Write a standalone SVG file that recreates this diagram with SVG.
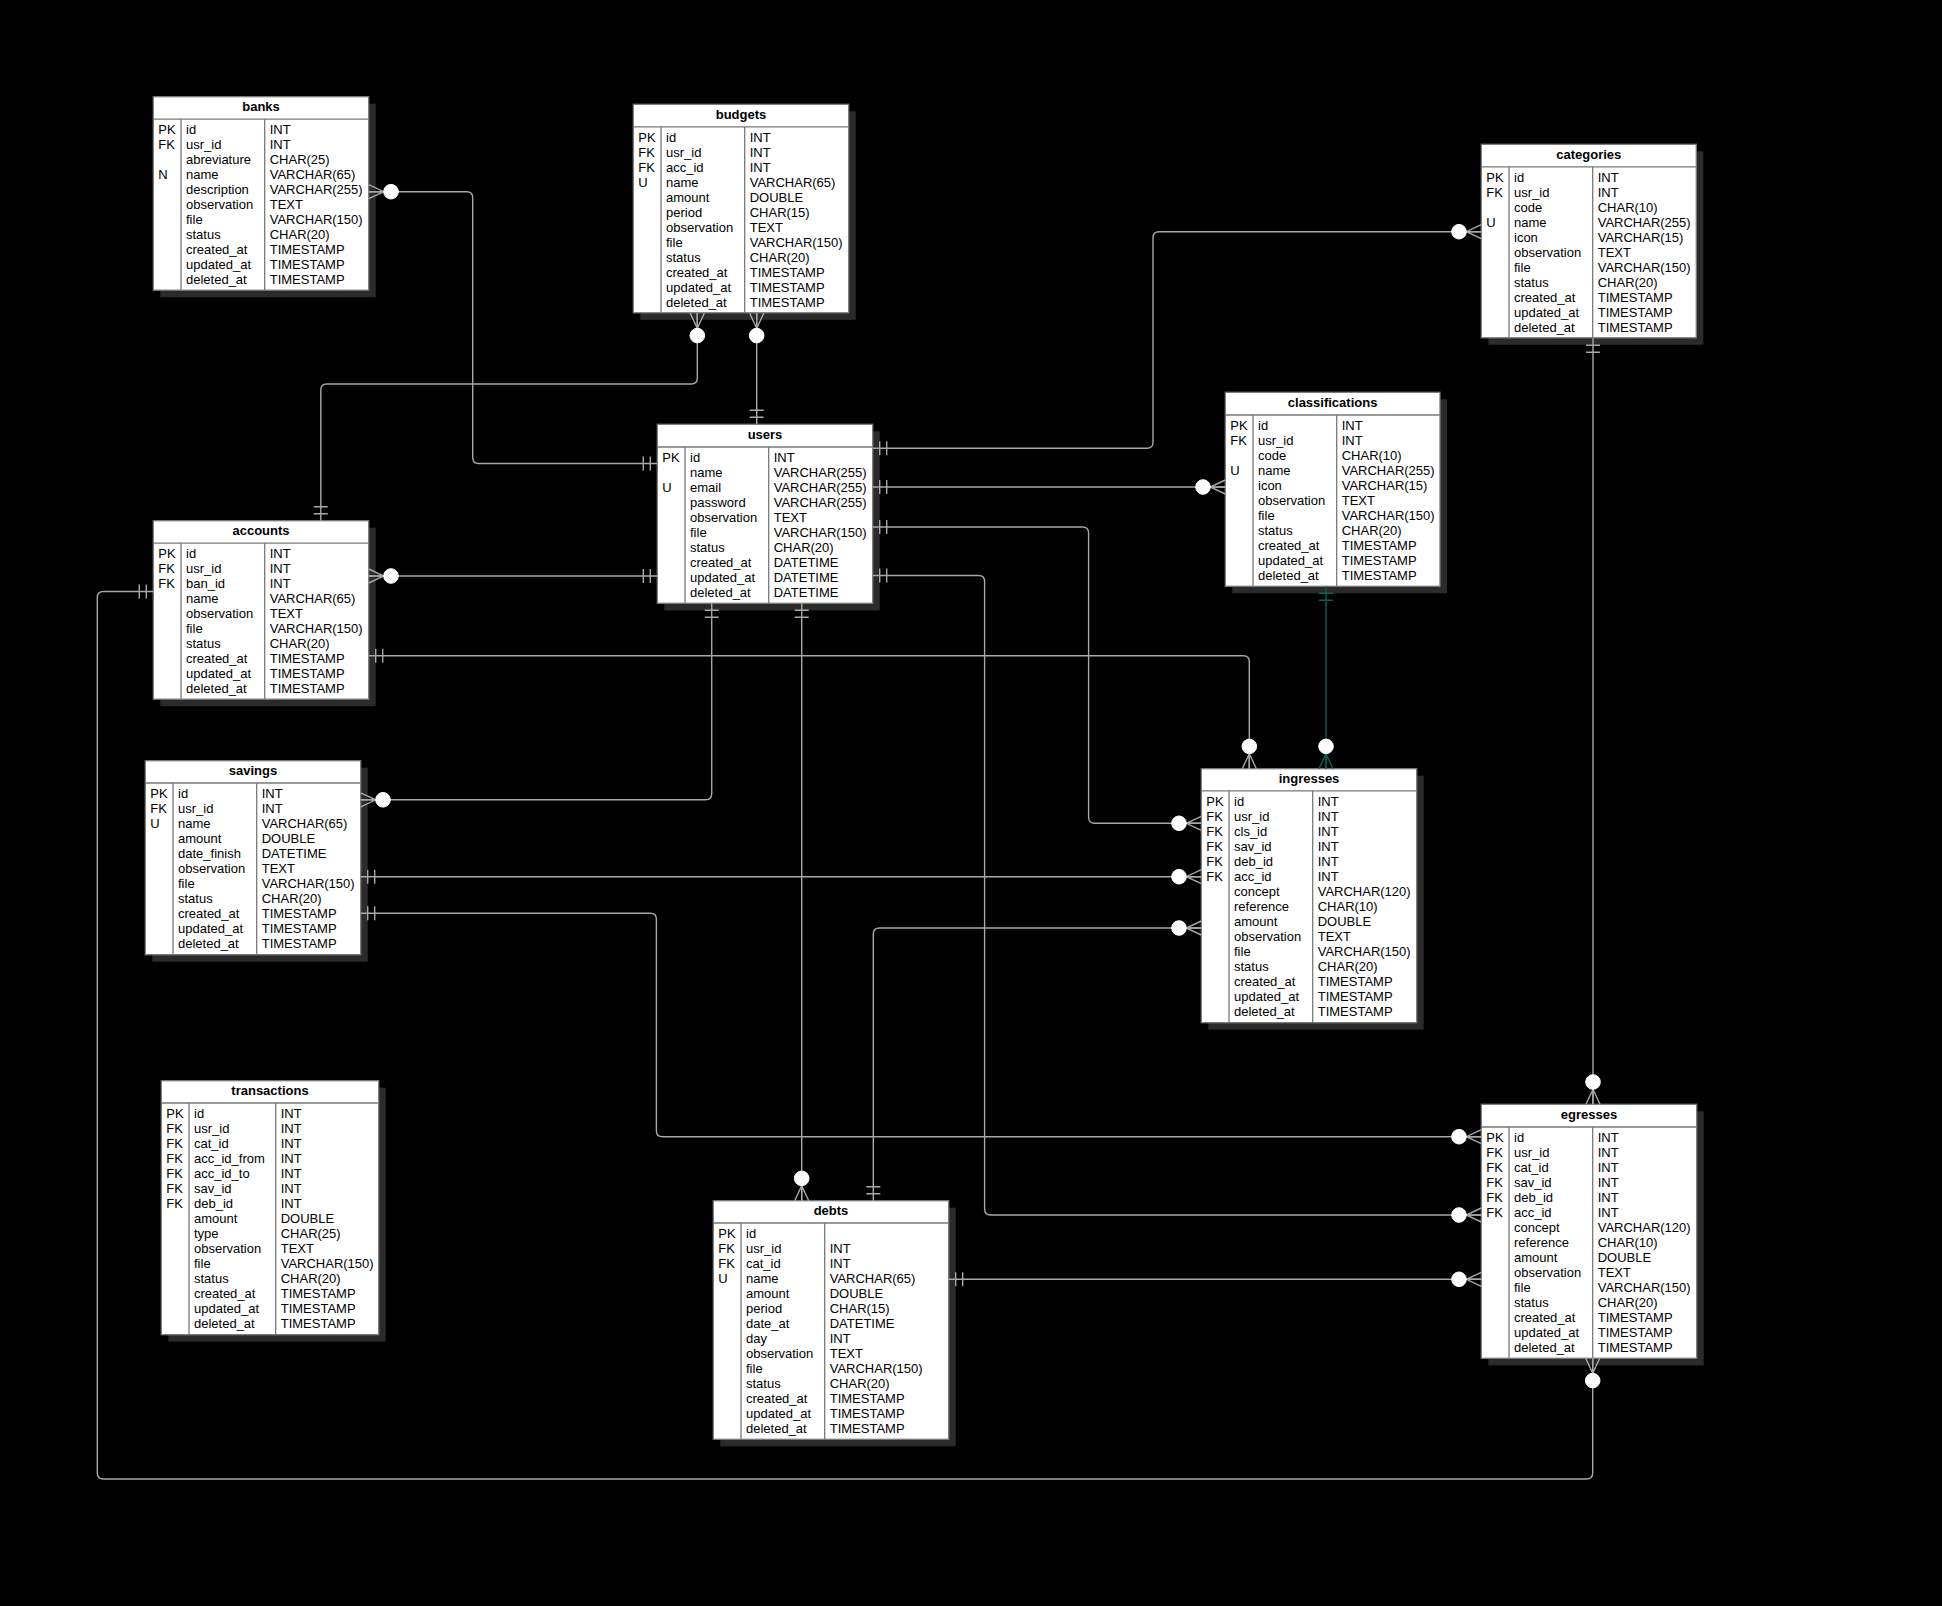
<svg xmlns="http://www.w3.org/2000/svg" width="1942" height="1606" viewBox="0 0 1942 1606">
<defs>
<style>
.bg{fill:#000}
.sh{fill:#2b2b2b}
.bx{fill:#fff;stroke:#7a7a7a;stroke-width:1.3}
.dv{stroke:#7a7a7a;stroke-width:1.3;fill:none}
.hd{font-family:"Liberation Sans",Arial,sans-serif;font-size:13px;font-weight:bold;fill:#000;text-anchor:middle}
.tx{font-family:"Liberation Sans",Arial,sans-serif;font-size:13px;fill:#000}
.ln{fill:none;stroke:#a8a8a8;stroke-width:1.4}
.tl{fill:none;stroke:#0b5f5a;stroke-width:1.4}
</style>
<marker id="one" markerUnits="userSpaceOnUse" orient="auto-start-reverse" refX="0" refY="0" markerWidth="40" markerHeight="40" viewBox="-30 -20 40 40" overflow="visible">
<path d="M-7,-7 V7 M-14,-7 V7" fill="none" stroke="#a8a8a8" stroke-width="1.4"/>
</marker>
<marker id="zm" markerUnits="userSpaceOnUse" orient="auto-start-reverse" refX="0" refY="0" markerWidth="40" markerHeight="40" viewBox="-30 -20 40 40" overflow="visible">
<path d="M0,-7 L-15,0 L0,7 M0,0 H-15" fill="none" stroke="#a8a8a8" stroke-width="1.4"/>
<circle cx="-22.3" cy="0" r="7.3" fill="#fff" stroke="#fff" stroke-width="1"/>
</marker>
<marker id="oneT" markerUnits="userSpaceOnUse" orient="auto-start-reverse" refX="0" refY="0" markerWidth="40" markerHeight="40" viewBox="-30 -20 40 40" overflow="visible">
<path d="M-7,-7 V7 M-14,-7 V7" fill="none" stroke="#0b5f5a" stroke-width="1.4"/>
</marker>
<marker id="zmT" markerUnits="userSpaceOnUse" orient="auto-start-reverse" refX="0" refY="0" markerWidth="40" markerHeight="40" viewBox="-30 -20 40 40" overflow="visible">
<path d="M0,-7 L-15,0 L0,7 M0,0 H-15" fill="none" stroke="#0b5f5a" stroke-width="1.4"/>
<circle cx="-22.3" cy="0" r="7.3" fill="#fff" stroke="#fff" stroke-width="1"/>
</marker>
</defs>
<rect class="bg" x="0" y="0" width="1942" height="1606"/>

<g id="banks" transform="translate(153.3,96.7)">
<rect class="sh" x="7" y="7" width="215.4" height="193.5"/>
<rect class="bx" x="0" y="0" width="215.4" height="193.5"/>
<path class="dv" d="M0,22.5 H215.4 M27.7,22.5 V193.5 M111.4,22.5 V193.5"/>
<text class="hd" x="107.7" y="14.6">banks</text>
<text class="tx"><tspan x="5" y="37.5">PK</tspan><tspan x="5" y="52.5">FK</tspan><tspan x="5" y="82.5">N</tspan></text>
<text class="tx"><tspan x="32.7" y="37.5">id</tspan><tspan x="32.7" dy="15">usr_id</tspan><tspan x="32.7" dy="15">abreviature</tspan><tspan x="32.7" dy="15">name</tspan><tspan x="32.7" dy="15">description</tspan><tspan x="32.7" dy="15">observation</tspan><tspan x="32.7" dy="15">file</tspan><tspan x="32.7" dy="15">status</tspan><tspan x="32.7" dy="15">created_at</tspan><tspan x="32.7" dy="15">updated_at</tspan><tspan x="32.7" dy="15">deleted_at</tspan></text>
<text class="tx"><tspan x="116.4" y="37.5">INT</tspan><tspan x="116.4" dy="15">INT</tspan><tspan x="116.4" dy="15">CHAR(25)</tspan><tspan x="116.4" dy="15">VARCHAR(65)</tspan><tspan x="116.4" dy="15">VARCHAR(255)</tspan><tspan x="116.4" dy="15">TEXT</tspan><tspan x="116.4" dy="15">VARCHAR(150)</tspan><tspan x="116.4" dy="15">CHAR(20)</tspan><tspan x="116.4" dy="15">TIMESTAMP</tspan><tspan x="116.4" dy="15">TIMESTAMP</tspan><tspan x="116.4" dy="15">TIMESTAMP</tspan></text>
</g>

<g id="budgets" transform="translate(633.3,104.3)">
<rect class="sh" x="7" y="7" width="215.4" height="208.5"/>
<rect class="bx" x="0" y="0" width="215.4" height="208.5"/>
<path class="dv" d="M0,22.5 H215.4 M27.7,22.5 V208.5 M111.4,22.5 V208.5"/>
<text class="hd" x="107.7" y="14.6">budgets</text>
<text class="tx"><tspan x="5" y="37.5">PK</tspan><tspan x="5" y="52.5">FK</tspan><tspan x="5" y="67.5">FK</tspan><tspan x="5" y="82.5">U</tspan></text>
<text class="tx"><tspan x="32.7" y="37.5">id</tspan><tspan x="32.7" dy="15">usr_id</tspan><tspan x="32.7" dy="15">acc_id</tspan><tspan x="32.7" dy="15">name</tspan><tspan x="32.7" dy="15">amount</tspan><tspan x="32.7" dy="15">period</tspan><tspan x="32.7" dy="15">observation</tspan><tspan x="32.7" dy="15">file</tspan><tspan x="32.7" dy="15">status</tspan><tspan x="32.7" dy="15">created_at</tspan><tspan x="32.7" dy="15">updated_at</tspan><tspan x="32.7" dy="15">deleted_at</tspan></text>
<text class="tx"><tspan x="116.4" y="37.5">INT</tspan><tspan x="116.4" dy="15">INT</tspan><tspan x="116.4" dy="15">INT</tspan><tspan x="116.4" dy="15">VARCHAR(65)</tspan><tspan x="116.4" dy="15">DOUBLE</tspan><tspan x="116.4" dy="15">CHAR(15)</tspan><tspan x="116.4" dy="15">TEXT</tspan><tspan x="116.4" dy="15">VARCHAR(150)</tspan><tspan x="116.4" dy="15">CHAR(20)</tspan><tspan x="116.4" dy="15">TIMESTAMP</tspan><tspan x="116.4" dy="15">TIMESTAMP</tspan><tspan x="116.4" dy="15">TIMESTAMP</tspan></text>
</g>

<g id="categories" transform="translate(1481.3,144.3)">
<rect class="sh" x="7" y="7" width="215" height="193.5"/>
<rect class="bx" x="0" y="0" width="215" height="193.5"/>
<path class="dv" d="M0,22.5 H215 M27.7,22.5 V193.5 M111.4,22.5 V193.5"/>
<text class="hd" x="107.5" y="14.6">categories</text>
<text class="tx"><tspan x="5" y="37.5">PK</tspan><tspan x="5" y="52.5">FK</tspan><tspan x="5" y="82.5">U</tspan></text>
<text class="tx"><tspan x="32.7" y="37.5">id</tspan><tspan x="32.7" dy="15">usr_id</tspan><tspan x="32.7" dy="15">code</tspan><tspan x="32.7" dy="15">name</tspan><tspan x="32.7" dy="15">icon</tspan><tspan x="32.7" dy="15">observation</tspan><tspan x="32.7" dy="15">file</tspan><tspan x="32.7" dy="15">status</tspan><tspan x="32.7" dy="15">created_at</tspan><tspan x="32.7" dy="15">updated_at</tspan><tspan x="32.7" dy="15">deleted_at</tspan></text>
<text class="tx"><tspan x="116.4" y="37.5">INT</tspan><tspan x="116.4" dy="15">INT</tspan><tspan x="116.4" dy="15">CHAR(10)</tspan><tspan x="116.4" dy="15">VARCHAR(255)</tspan><tspan x="116.4" dy="15">VARCHAR(15)</tspan><tspan x="116.4" dy="15">TEXT</tspan><tspan x="116.4" dy="15">VARCHAR(150)</tspan><tspan x="116.4" dy="15">CHAR(20)</tspan><tspan x="116.4" dy="15">TIMESTAMP</tspan><tspan x="116.4" dy="15">TIMESTAMP</tspan><tspan x="116.4" dy="15">TIMESTAMP</tspan></text>
</g>

<g id="accounts" transform="translate(153.3,520.7)">
<rect class="sh" x="7" y="7" width="215.4" height="178.5"/>
<rect class="bx" x="0" y="0" width="215.4" height="178.5"/>
<path class="dv" d="M0,22.5 H215.4 M27.7,22.5 V178.5 M111.4,22.5 V178.5"/>
<text class="hd" x="107.7" y="14.6">accounts</text>
<text class="tx"><tspan x="5" y="37.5">PK</tspan><tspan x="5" y="52.5">FK</tspan><tspan x="5" y="67.5">FK</tspan></text>
<text class="tx"><tspan x="32.7" y="37.5">id</tspan><tspan x="32.7" dy="15">usr_id</tspan><tspan x="32.7" dy="15">ban_id</tspan><tspan x="32.7" dy="15">name</tspan><tspan x="32.7" dy="15">observation</tspan><tspan x="32.7" dy="15">file</tspan><tspan x="32.7" dy="15">status</tspan><tspan x="32.7" dy="15">created_at</tspan><tspan x="32.7" dy="15">updated_at</tspan><tspan x="32.7" dy="15">deleted_at</tspan></text>
<text class="tx"><tspan x="116.4" y="37.5">INT</tspan><tspan x="116.4" dy="15">INT</tspan><tspan x="116.4" dy="15">INT</tspan><tspan x="116.4" dy="15">VARCHAR(65)</tspan><tspan x="116.4" dy="15">TEXT</tspan><tspan x="116.4" dy="15">VARCHAR(150)</tspan><tspan x="116.4" dy="15">CHAR(20)</tspan><tspan x="116.4" dy="15">TIMESTAMP</tspan><tspan x="116.4" dy="15">TIMESTAMP</tspan><tspan x="116.4" dy="15">TIMESTAMP</tspan></text>
</g>

<g id="users" transform="translate(657.3,424.3)">
<rect class="sh" x="7" y="7" width="215.4" height="179"/>
<rect class="bx" x="0" y="0" width="215.4" height="179"/>
<path class="dv" d="M0,22.7 H215.4 M27.7,22.7 V179 M111.4,22.7 V179"/>
<text class="hd" x="107.7" y="14.6">users</text>
<text class="tx"><tspan x="5" y="37.7">PK</tspan><tspan x="5" y="67.7">U</tspan></text>
<text class="tx"><tspan x="32.7" y="37.7">id</tspan><tspan x="32.7" dy="15">name</tspan><tspan x="32.7" dy="15">email</tspan><tspan x="32.7" dy="15">password</tspan><tspan x="32.7" dy="15">observation</tspan><tspan x="32.7" dy="15">file</tspan><tspan x="32.7" dy="15">status</tspan><tspan x="32.7" dy="15">created_at</tspan><tspan x="32.7" dy="15">updated_at</tspan><tspan x="32.7" dy="15">deleted_at</tspan></text>
<text class="tx"><tspan x="116.4" y="37.7">INT</tspan><tspan x="116.4" dy="15">VARCHAR(255)</tspan><tspan x="116.4" dy="15">VARCHAR(255)</tspan><tspan x="116.4" dy="15">VARCHAR(255)</tspan><tspan x="116.4" dy="15">TEXT</tspan><tspan x="116.4" dy="15">VARCHAR(150)</tspan><tspan x="116.4" dy="15">CHAR(20)</tspan><tspan x="116.4" dy="15">DATETIME</tspan><tspan x="116.4" dy="15">DATETIME</tspan><tspan x="116.4" dy="15">DATETIME</tspan></text>
</g>

<g id="classifications" transform="translate(1225.3,392.3)">
<rect class="sh" x="7" y="7" width="214.7" height="194"/>
<rect class="bx" x="0" y="0" width="214.7" height="194"/>
<path class="dv" d="M0,22.7 H214.7 M27.7,22.7 V194 M111.4,22.7 V194"/>
<text class="hd" x="107.3" y="14.6">classifications</text>
<text class="tx"><tspan x="5" y="37.7">PK</tspan><tspan x="5" y="52.7">FK</tspan><tspan x="5" y="82.7">U</tspan></text>
<text class="tx"><tspan x="32.7" y="37.7">id</tspan><tspan x="32.7" dy="15">usr_id</tspan><tspan x="32.7" dy="15">code</tspan><tspan x="32.7" dy="15">name</tspan><tspan x="32.7" dy="15">icon</tspan><tspan x="32.7" dy="15">observation</tspan><tspan x="32.7" dy="15">file</tspan><tspan x="32.7" dy="15">status</tspan><tspan x="32.7" dy="15">created_at</tspan><tspan x="32.7" dy="15">updated_at</tspan><tspan x="32.7" dy="15">deleted_at</tspan></text>
<text class="tx"><tspan x="116.4" y="37.7">INT</tspan><tspan x="116.4" dy="15">INT</tspan><tspan x="116.4" dy="15">CHAR(10)</tspan><tspan x="116.4" dy="15">VARCHAR(255)</tspan><tspan x="116.4" dy="15">VARCHAR(15)</tspan><tspan x="116.4" dy="15">TEXT</tspan><tspan x="116.4" dy="15">VARCHAR(150)</tspan><tspan x="116.4" dy="15">CHAR(20)</tspan><tspan x="116.4" dy="15">TIMESTAMP</tspan><tspan x="116.4" dy="15">TIMESTAMP</tspan><tspan x="116.4" dy="15">TIMESTAMP</tspan></text>
</g>

<g id="savings" transform="translate(145.3,760.7)">
<rect class="sh" x="7" y="7" width="215.4" height="194"/>
<rect class="bx" x="0" y="0" width="215.4" height="194"/>
<path class="dv" d="M0,22.3 H215.4 M27.7,22.3 V194 M111.4,22.3 V194"/>
<text class="hd" x="107.7" y="14.6">savings</text>
<text class="tx"><tspan x="5" y="37.5">PK</tspan><tspan x="5" y="52.5">FK</tspan><tspan x="5" y="67.5">U</tspan></text>
<text class="tx"><tspan x="32.7" y="37.5">id</tspan><tspan x="32.7" dy="15">usr_id</tspan><tspan x="32.7" dy="15">name</tspan><tspan x="32.7" dy="15">amount</tspan><tspan x="32.7" dy="15">date_finish</tspan><tspan x="32.7" dy="15">observation</tspan><tspan x="32.7" dy="15">file</tspan><tspan x="32.7" dy="15">status</tspan><tspan x="32.7" dy="15">created_at</tspan><tspan x="32.7" dy="15">updated_at</tspan><tspan x="32.7" dy="15">deleted_at</tspan></text>
<text class="tx"><tspan x="116.4" y="37.5">INT</tspan><tspan x="116.4" dy="15">INT</tspan><tspan x="116.4" dy="15">VARCHAR(65)</tspan><tspan x="116.4" dy="15">DOUBLE</tspan><tspan x="116.4" dy="15">DATETIME</tspan><tspan x="116.4" dy="15">TEXT</tspan><tspan x="116.4" dy="15">VARCHAR(150)</tspan><tspan x="116.4" dy="15">CHAR(20)</tspan><tspan x="116.4" dy="15">TIMESTAMP</tspan><tspan x="116.4" dy="15">TIMESTAMP</tspan><tspan x="116.4" dy="15">TIMESTAMP</tspan></text>
</g>

<g id="ingresses" transform="translate(1201.3,768.7)">
<rect class="sh" x="7" y="7" width="215.4" height="254"/>
<rect class="bx" x="0" y="0" width="215.4" height="254"/>
<path class="dv" d="M0,22.2 H215.4 M27.7,22.2 V254 M111.4,22.2 V254"/>
<text class="hd" x="107.7" y="14.6">ingresses</text>
<text class="tx"><tspan x="5" y="37.3">PK</tspan><tspan x="5" y="52.3">FK</tspan><tspan x="5" y="67.3">FK</tspan><tspan x="5" y="82.3">FK</tspan><tspan x="5" y="97.3">FK</tspan><tspan x="5" y="112.3">FK</tspan></text>
<text class="tx"><tspan x="32.7" y="37.3">id</tspan><tspan x="32.7" dy="15">usr_id</tspan><tspan x="32.7" dy="15">cls_id</tspan><tspan x="32.7" dy="15">sav_id</tspan><tspan x="32.7" dy="15">deb_id</tspan><tspan x="32.7" dy="15">acc_id</tspan><tspan x="32.7" dy="15">concept</tspan><tspan x="32.7" dy="15">reference</tspan><tspan x="32.7" dy="15">amount</tspan><tspan x="32.7" dy="15">observation</tspan><tspan x="32.7" dy="15">file</tspan><tspan x="32.7" dy="15">status</tspan><tspan x="32.7" dy="15">created_at</tspan><tspan x="32.7" dy="15">updated_at</tspan><tspan x="32.7" dy="15">deleted_at</tspan></text>
<text class="tx"><tspan x="116.4" y="37.3">INT</tspan><tspan x="116.4" dy="15">INT</tspan><tspan x="116.4" dy="15">INT</tspan><tspan x="116.4" dy="15">INT</tspan><tspan x="116.4" dy="15">INT</tspan><tspan x="116.4" dy="15">INT</tspan><tspan x="116.4" dy="15">VARCHAR(120)</tspan><tspan x="116.4" dy="15">CHAR(10)</tspan><tspan x="116.4" dy="15">DOUBLE</tspan><tspan x="116.4" dy="15">TEXT</tspan><tspan x="116.4" dy="15">VARCHAR(150)</tspan><tspan x="116.4" dy="15">CHAR(20)</tspan><tspan x="116.4" dy="15">TIMESTAMP</tspan><tspan x="116.4" dy="15">TIMESTAMP</tspan><tspan x="116.4" dy="15">TIMESTAMP</tspan></text>
</g>

<g id="transactions" transform="translate(161.3,1080.7)">
<rect class="sh" x="7" y="7" width="217.4" height="254"/>
<rect class="bx" x="0" y="0" width="217.4" height="254"/>
<path class="dv" d="M0,22.3 H217.4 M27.7,22.3 V254 M114.4,22.3 V254"/>
<text class="hd" x="108.7" y="14.6">transactions</text>
<text class="tx"><tspan x="5" y="37.5">PK</tspan><tspan x="5" y="52.5">FK</tspan><tspan x="5" y="67.5">FK</tspan><tspan x="5" y="82.5">FK</tspan><tspan x="5" y="97.5">FK</tspan><tspan x="5" y="112.5">FK</tspan><tspan x="5" y="127.5">FK</tspan></text>
<text class="tx"><tspan x="32.7" y="37.5">id</tspan><tspan x="32.7" dy="15">usr_id</tspan><tspan x="32.7" dy="15">cat_id</tspan><tspan x="32.7" dy="15">acc_id_from</tspan><tspan x="32.7" dy="15">acc_id_to</tspan><tspan x="32.7" dy="15">sav_id</tspan><tspan x="32.7" dy="15">deb_id</tspan><tspan x="32.7" dy="15">amount</tspan><tspan x="32.7" dy="15">type</tspan><tspan x="32.7" dy="15">observation</tspan><tspan x="32.7" dy="15">file</tspan><tspan x="32.7" dy="15">status</tspan><tspan x="32.7" dy="15">created_at</tspan><tspan x="32.7" dy="15">updated_at</tspan><tspan x="32.7" dy="15">deleted_at</tspan></text>
<text class="tx"><tspan x="119.4" y="37.5">INT</tspan><tspan x="119.4" dy="15">INT</tspan><tspan x="119.4" dy="15">INT</tspan><tspan x="119.4" dy="15">INT</tspan><tspan x="119.4" dy="15">INT</tspan><tspan x="119.4" dy="15">INT</tspan><tspan x="119.4" dy="15">INT</tspan><tspan x="119.4" dy="15">DOUBLE</tspan><tspan x="119.4" dy="15">CHAR(25)</tspan><tspan x="119.4" dy="15">TEXT</tspan><tspan x="119.4" dy="15">VARCHAR(150)</tspan><tspan x="119.4" dy="15">CHAR(20)</tspan><tspan x="119.4" dy="15">TIMESTAMP</tspan><tspan x="119.4" dy="15">TIMESTAMP</tspan><tspan x="119.4" dy="15">TIMESTAMP</tspan></text>
</g>

<g id="debts" transform="translate(713.3,1200.7)">
<rect class="sh" x="7" y="7" width="235.4" height="238.6"/>
<rect class="bx" x="0" y="0" width="235.4" height="238.6"/>
<path class="dv" d="M0,22.3 H235.4 M27.7,22.3 V238.6 M111.4,22.3 V238.6"/>
<text class="hd" x="117.7" y="14.6">debts</text>
<text class="tx"><tspan x="5" y="37.5">PK</tspan><tspan x="5" y="52.5">FK</tspan><tspan x="5" y="67.5">FK</tspan><tspan x="5" y="82.5">U</tspan></text>
<text class="tx"><tspan x="32.7" y="37.5">id</tspan><tspan x="32.7" dy="15">usr_id</tspan><tspan x="32.7" dy="15">cat_id</tspan><tspan x="32.7" dy="15">name</tspan><tspan x="32.7" dy="15">amount</tspan><tspan x="32.7" dy="15">period</tspan><tspan x="32.7" dy="15">date_at</tspan><tspan x="32.7" dy="15">day</tspan><tspan x="32.7" dy="15">observation</tspan><tspan x="32.7" dy="15">file</tspan><tspan x="32.7" dy="15">status</tspan><tspan x="32.7" dy="15">created_at</tspan><tspan x="32.7" dy="15">updated_at</tspan><tspan x="32.7" dy="15">deleted_at</tspan></text>
<text class="tx"><tspan x="116.4" y="52.5">INT</tspan><tspan x="116.4" dy="15">INT</tspan><tspan x="116.4" dy="15">VARCHAR(65)</tspan><tspan x="116.4" dy="15">DOUBLE</tspan><tspan x="116.4" dy="15">CHAR(15)</tspan><tspan x="116.4" dy="15">DATETIME</tspan><tspan x="116.4" dy="15">INT</tspan><tspan x="116.4" dy="15">TEXT</tspan><tspan x="116.4" dy="15">VARCHAR(150)</tspan><tspan x="116.4" dy="15">CHAR(20)</tspan><tspan x="116.4" dy="15">TIMESTAMP</tspan><tspan x="116.4" dy="15">TIMESTAMP</tspan><tspan x="116.4" dy="15">TIMESTAMP</tspan></text>
</g>

<g id="egresses" transform="translate(1481.3,1104.3)">
<rect class="sh" x="7" y="7" width="215.4" height="254"/>
<rect class="bx" x="0" y="0" width="215.4" height="254"/>
<path class="dv" d="M0,22.7 H215.4 M27.7,22.7 V254 M111.4,22.7 V254"/>
<text class="hd" x="107.7" y="14.6">egresses</text>
<text class="tx"><tspan x="5" y="37.7">PK</tspan><tspan x="5" y="52.7">FK</tspan><tspan x="5" y="67.7">FK</tspan><tspan x="5" y="82.7">FK</tspan><tspan x="5" y="97.7">FK</tspan><tspan x="5" y="112.7">FK</tspan></text>
<text class="tx"><tspan x="32.7" y="37.7">id</tspan><tspan x="32.7" dy="15">usr_id</tspan><tspan x="32.7" dy="15">cat_id</tspan><tspan x="32.7" dy="15">sav_id</tspan><tspan x="32.7" dy="15">deb_id</tspan><tspan x="32.7" dy="15">acc_id</tspan><tspan x="32.7" dy="15">concept</tspan><tspan x="32.7" dy="15">reference</tspan><tspan x="32.7" dy="15">amount</tspan><tspan x="32.7" dy="15">observation</tspan><tspan x="32.7" dy="15">file</tspan><tspan x="32.7" dy="15">status</tspan><tspan x="32.7" dy="15">created_at</tspan><tspan x="32.7" dy="15">updated_at</tspan><tspan x="32.7" dy="15">deleted_at</tspan></text>
<text class="tx"><tspan x="116.4" y="37.7">INT</tspan><tspan x="116.4" dy="15">INT</tspan><tspan x="116.4" dy="15">INT</tspan><tspan x="116.4" dy="15">INT</tspan><tspan x="116.4" dy="15">INT</tspan><tspan x="116.4" dy="15">INT</tspan><tspan x="116.4" dy="15">VARCHAR(120)</tspan><tspan x="116.4" dy="15">CHAR(10)</tspan><tspan x="116.4" dy="15">DOUBLE</tspan><tspan x="116.4" dy="15">TEXT</tspan><tspan x="116.4" dy="15">VARCHAR(150)</tspan><tspan x="116.4" dy="15">CHAR(20)</tspan><tspan x="116.4" dy="15">TIMESTAMP</tspan><tspan x="116.4" dy="15">TIMESTAMP</tspan><tspan x="116.4" dy="15">TIMESTAMP</tspan></text>
</g>

<g id="connectors">
<path class="ln" marker-start="url(#zm)" marker-end="url(#one)" d="M368.7,191.7 H466.7 Q472.7,191.7 472.7,197.7 V457.5 Q472.7,463.5 478.7,463.5 H657.3"/>
<path class="ln" marker-start="url(#zm)" marker-end="url(#one)" d="M697.3,313.3 V378 Q697.3,384 691.3,384 H326.8 Q320.8,384 320.8,390 V520.7"/>
<path class="ln" marker-start="url(#zm)" marker-end="url(#one)" d="M756.7,313.3 V424.3"/>
<path class="ln" marker-start="url(#zm)" marker-end="url(#one)" d="M1481.3,231.7 H1159 Q1153,231.7 1153,237.7 V442.3 Q1153,448.3 1147,448.3 H872.7"/>
<path class="ln" marker-start="url(#zm)" marker-end="url(#one)" d="M1225.3,487 H872.7"/>
<path class="ln" marker-start="url(#one)" marker-end="url(#zm)" d="M872.7,527 H1082.6 Q1088.6,527 1088.6,533 V817.3 Q1088.6,823.3 1094.6,823.3 H1201.3"/>
<path class="ln" marker-start="url(#one)" marker-end="url(#zm)" d="M872.7,575.5 H978.6 Q984.6,575.5 984.6,581.5 V1209 Q984.6,1215 990.6,1215 H1481.3"/>
<path class="ln" marker-start="url(#one)" marker-end="url(#zm)" d="M711.7,603.3 V793.8 Q711.7,799.8 705.7,799.8 H360.7"/>
<path class="ln" marker-start="url(#one)" marker-end="url(#zm)" d="M801.7,603.3 V1200.7"/>
<path class="ln" marker-start="url(#one)" marker-end="url(#zm)" d="M657.3,576 H368.7"/>
<path class="ln" marker-start="url(#one)" marker-end="url(#zm)" d="M368.7,655.7 H1243.3 Q1249.3,655.7 1249.3,661.7 V768.7"/>
<path class="tl" marker-start="url(#oneT)" marker-end="url(#zmT)" d="M1326,586.3 V768.7"/>
<path class="ln" marker-start="url(#one)" marker-end="url(#zm)" d="M1593,338.3 V1104.3"/>
<path class="ln" marker-start="url(#one)" marker-end="url(#zm)" d="M360.7,876.7 H1201.3"/>
<path class="ln" marker-start="url(#one)" marker-end="url(#zm)" d="M360.7,913.3 H650.4 Q656.4,913.3 656.4,919.3 V1130.7 Q656.4,1136.7 662.4,1136.7 H1481.3"/>
<path class="ln" marker-start="url(#one)" marker-end="url(#zm)" d="M873.3,1200.7 V934 Q873.3,928 879.3,928 H1201.3"/>
<path class="ln" marker-start="url(#one)" marker-end="url(#zm)" d="M948.7,1279.3 H1481.3"/>
<path class="ln" marker-start="url(#zm)" marker-end="url(#one)" d="M1592.7,1358.3 V1473 Q1592.7,1479 1586.7,1479 H103.3 Q97.3,1479 97.3,1473 V597.5 Q97.3,591.5 103.3,591.5 H153.3"/>
</g>
</svg>
